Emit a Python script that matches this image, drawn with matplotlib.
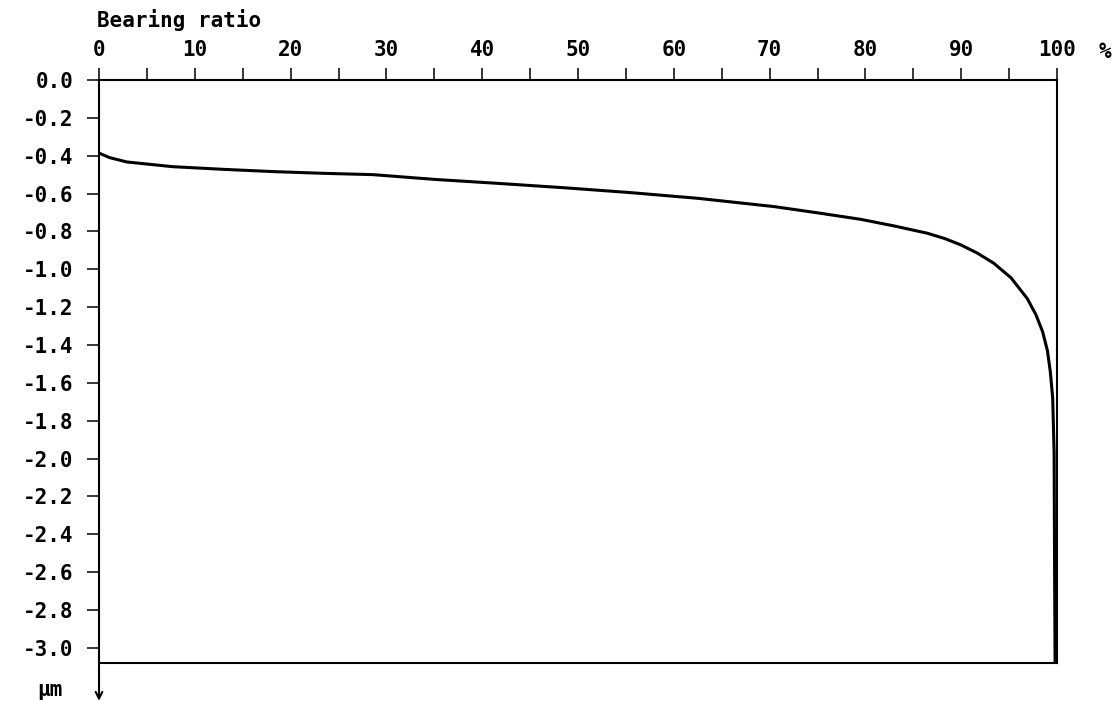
import matplotlib
matplotlib.use("Agg")
import matplotlib.pyplot as plt
from matplotlib.ticker import MultipleLocator, FixedLocator

plt.rcParams['axes.unicode_minus'] = False

# Bearing ratio curve (Abbott-Firestone), percent vs depth in µm
bearing_pct = [0, 1.1, 2.9, 7.7, 13.0, 18.2, 23.4, 28.6, 35.0, 41.6, 48.5,
               55.5, 62.5, 70.5, 75.3, 79.5, 83.0, 86.5, 88.3, 90.0, 91.7,
               93.4, 95.2, 96.9, 97.8, 98.5, 99.0, 99.3, 99.55, 99.7, 99.75, 99.8]
depth_um = [-0.386, -0.41, -0.433, -0.458, -0.472, -0.484, -0.493, -0.500,
            -0.525, -0.546, -0.569, -0.595, -0.625, -0.669, -0.704, -0.736,
            -0.771, -0.810, -0.838, -0.872, -0.915, -0.968, -1.045, -1.155,
            -1.24, -1.33, -1.43, -1.54, -1.68, -1.97, -2.6, -3.08]

x_major = [0, 10, 20, 30, 40, 50, 60, 70, 80, 90, 100]
x_labels = ["0", "10", "20", "30", "40", "50", "60", "70", "80", "90", "100"]
y_ticks = [0.0, -0.2, -0.4, -0.6, -0.8, -1.0, -1.2, -1.4, -1.6, -1.8, -2.0,
           -2.2, -2.4, -2.6, -2.8, -3.0]

W, H = 1120, 701
fig = plt.figure(figsize=(W / 100, H / 100), dpi=100)
left, right, top, bottom = 99, 1057, 80, 663
ax = fig.add_axes([left / W, 1 - bottom / H, (right - left) / W, (bottom - top) / H])

font = dict(family='DejaVu Sans Mono', weight='bold', size=15)
lw_frame = 1.5

ax.plot(bearing_pct, depth_um, color='black', lw=2.2, solid_joinstyle='round')

ax.set_xlim(0, 100)
ax.set_ylim(-3.08, 0)

for s in ax.spines.values():
    s.set_linewidth(lw_frame)
    s.set_color('black')

ax.xaxis.tick_top()
ax.xaxis.set_major_locator(FixedLocator(x_major))
ax.xaxis.set_minor_locator(MultipleLocator(5))
ax.set_xticklabels(x_labels, fontdict=font)
ax.tick_params(axis='x', which='both', direction='out', length=8.6, width=1.1,
               top=True, bottom=False, pad=6)

ax.yaxis.set_major_locator(FixedLocator(y_ticks))
ax.set_yticklabels([f"{v:.1f}" for v in y_ticks], fontdict=font)
ax.tick_params(axis='y', which='major', direction='out', length=8.6, width=1.1,
               left=True, right=False, pad=10)

fig.text(97 / W, 1 - 20 / H, "Bearing ratio", ha='left', va='center', **font)
fig.text(1105 / W, 1 - 52 / H, "%", ha='center', va='center', **font)
fig.text(50 / W, 1 - 690 / H, "µm", ha='center', va='center', **font)

ax.annotate('', xy=(0, -3.28), xytext=(0, -3.08), xycoords='data',
            arrowprops=dict(arrowstyle='->', lw=lw_frame, color='black',
                            shrinkA=0, shrinkB=0, mutation_scale=12),
            annotation_clip=False)

fig.savefig("out.png", dpi=100, facecolor='white')
